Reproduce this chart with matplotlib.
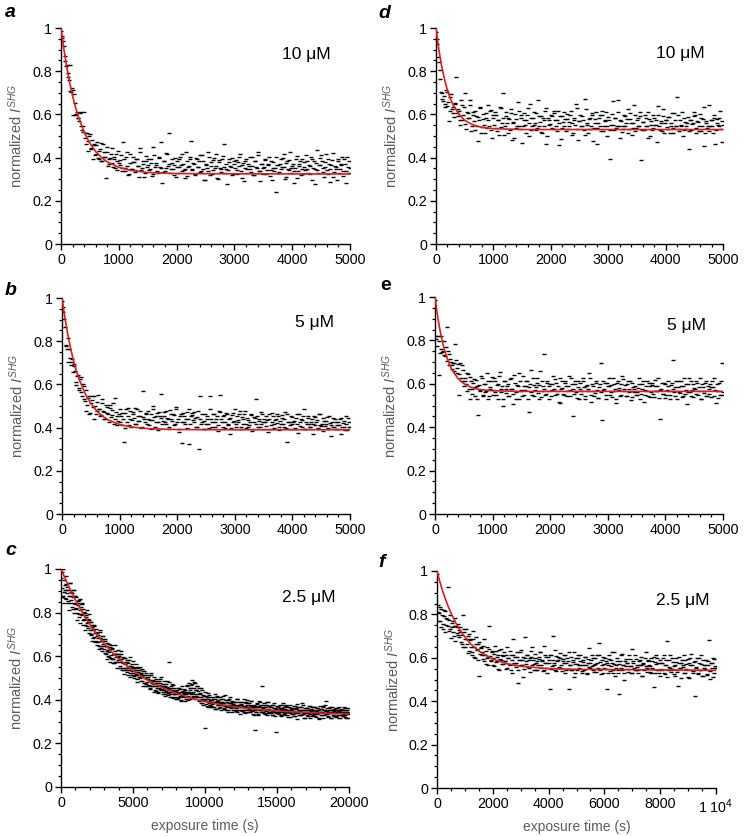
import numpy as np
import matplotlib
matplotlib.use("Agg")
import matplotlib.pyplot as plt
from matplotlib.ticker import MultipleLocator, FixedLocator, FixedFormatter

plt.rcParams['font.family'] = ['Liberation Sans', 'DejaVu Sans']
plt.rcParams['mathtext.fontset'] = 'custom'
plt.rcParams['mathtext.rm'] = 'Liberation Sans'
plt.rcParams['mathtext.it'] = 'Liberation Sans:italic'
plt.rcParams['mathtext.bf'] = 'Liberation Sans:bold'

# ---------------- data ----------------
panel_letters = ['a', 'b', 'c', 'd', 'e', 'f']
concentrations = ['10 μM', '5 μM', '2.5 μM', '10 μM', '5 μM', '2.5 μM']
sample_step = [25, 25, 50, 25, 25, 40]          # seconds between measurements of one pass
x_max = [5000, 5000, 20000, 5000, 5000, 10000]
x_major = [1000, 1000, 5000, 1000, 1000, 2000]
x_minor = [200, 200, 1000, 200, 200, 500]
y_ticks = [0, 0.2, 0.4, 0.6, 0.8, 1.0]
y_ticklabels = ['0', '0.2', '0.4', '0.6', '0.8', '1']

# normalized SHG intensity, in thousandths; "_a" pass at t = k*step, "_b" pass at t = step/2 + k*step
a_a = [985, 952, 915, 848, 828, 771, 830, 705, 712, 693, 598, 612, 585, 605, 545, 520, 610, 465, 512, 430,
       508, 445, 392, 458, 418, 472, 395, 441, 382, 462, 405, 305, 428, 372, 398, 445, 358, 392, 418, 341, 376,
       388, 352, 471, 336, 402, 361, 325, 418, 348, 379, 341, 395, 362, 312, 426, 353, 384, 331, 407, 368,
       344, 392, 316, 448, 358, 376, 329, 405, 351, 282, 386, 337, 421, 362, 515, 348, 374, 319, 398, 355,
       327, 392, 366, 418, 341, 305, 382, 357, 404, 478, 346, 371, 322, 395, 358, 412, 336, 384, 298, 367,
       352, 425, 318, 378, 341, 396, 362, 305, 387, 354, 332, 408, 462, 347, 276, 381, 359, 398, 324, 372,
       388, 341, 362, 415, 306, 376, 352, 394, 328, 362, 345, 402, 318, 383, 357, 428, 336, 291, 372, 354,
       389, 322, 364, 405, 343, 296, 378, 351, 242, 368, 332, 395, 358, 415, 301, 374, 346, 388, 327, 362,
       284, 351, 408, 336, 372, 318, 395, 357, 341, 385, 328, 362, 405, 296, 382, 347, 436, 331, 368, 414,
       352, 309, 378, 341, 392, 287, 365, 421, 332, 358, 296, 384, 346, 372, 315, 392, 339, 405, 328, 352]
a_b = [962, 938, 872, 826, 792, 758, 708, 722, 598, 655, 602, 585, 568, 612, 528, 548, 492, 515, 475, 502,
       438, 482, 462, 412, 458, 398, 432, 468, 385, 425, 402, 448, 362, 395, 418, 375, 402, 352, 385, 432,
       365, 412, 338, 392, 352, 428, 318, 375, 345, 402, 378, 332, 395, 362, 445, 341, 372, 308, 385, 356,
       392, 348, 375, 325, 412, 366, 338, 398, 355, 472, 335, 384, 352, 418, 372, 328, 395, 345, 368, 312,
       382, 355, 405, 338, 372, 348, 425, 315, 362, 392, 342, 375, 318, 398, 356, 382, 332, 412, 348, 295,
       372, 338, 405, 362, 325, 388, 352, 415, 302, 378, 345, 392, 358, 328, 372, 342, 395, 358, 318, 382,
       352, 325, 378, 405, 338, 365, 292, 385, 348, 372, 402, 335, 362, 318, 385, 352, 412, 338, 372, 325,
       358, 392, 342, 372, 315, 385, 352, 338, 402, 365, 328, 372, 345, 398, 358, 312, 382, 342, 425, 352,
       372, 338, 395, 305, 362, 385, 348, 325, 378, 412, 345, 368, 322, 392, 352, 278, 375, 342, 365, 398,
       382, 335, 358, 415, 325, 372, 345, 388, 312, 362, 348, 392, 328, 365, 405, 338, 372, 282, 355, 385]

b_a = [985, 935, 868, 782, 815, 762, 702, 718, 684, 662, 598, 642, 575, 632, 548, 591, 522, 478, 536, 462,
       515, 548, 442, 502, 478, 552, 486, 458, 512, 472, 438, 495, 462, 505, 447, 482, 418, 535, 456, 432, 488,
       452, 412, 335, 468, 425, 491, 438, 402, 472, 446, 418, 485, 432, 456, 398, 571, 441, 462, 415, 478,
       436, 395, 502, 448, 425, 468, 389, 452, 555, 431, 472, 418, 446, 395, 482, 438, 462, 412, 495, 428,
       378, 452, 331, 468, 425, 442, 398, 485, 415, 458, 436, 472, 402, 448, 302, 545, 425, 392, 462, 418,
       441, 398, 548, 426, 465, 405, 438, 382, 475, 552, 428, 452, 396, 468, 415, 442, 372, 458, 425, 488,
       405, 436, 462, 392, 448, 418, 475, 398, 435, 412, 458, 382, 425, 446, 532, 402, 438, 415, 462, 395,
       428, 452, 378, 442, 412, 468, 398, 435, 422, 455, 388, 418, 445, 402, 472, 335, 428, 395, 452, 415,
       432, 398, 462, 375, 425, 442, 405, 488, 392, 418, 445, 402, 428, 372, 452, 412, 435, 395, 465, 408,
       385, 432, 415, 448, 398, 422, 362, 445, 405, 428, 412, 395, 438, 372, 422, 402, 452, 388, 428, 405]
b_b = [958, 905, 778, 762, 705, 722, 688, 658, 695, 612, 638, 585, 625, 565, 602, 532, 575, 505, 548, 468,
       528, 495, 545, 462, 518, 488, 452, 532, 475, 442, 505, 468, 425, 492, 458, 512, 438, 472, 412, 462,
       425, 468, 442, 398, 485, 452, 412, 475, 435, 462, 492, 418, 455, 432, 478, 405, 448, 425, 468, 442,
       412, 462, 435, 488, 402, 452, 428, 472, 445, 415, 455, 425, 478, 438, 402, 465, 432, 458, 418, 485,
       442, 395, 462, 428, 455, 415, 472, 438, 325, 452, 468, 425, 445, 405, 478, 438, 415, 462, 432, 395,
       452, 418, 485, 442, 405, 465, 428, 452, 412, 472, 438, 402, 458, 425, 465, 412, 445, 398, 468, 432,
       415, 452, 428, 475, 402, 438, 462, 418, 445, 405, 428, 465, 392, 448, 418, 452, 432, 405, 472, 425,
       442, 408, 435, 462, 395, 428, 452, 415, 438, 465, 405, 432, 458, 418, 442, 398, 465, 425, 412, 448,
       428, 395, 445, 418, 462, 408, 435, 452, 392, 425, 452, 418, 402, 438, 415, 448, 425, 398, 462, 412,
       418, 445, 408, 432, 395, 455, 412, 428, 402, 442, 395, 428, 412, 445, 405, 432, 388, 418, 445, 402]

c_a = [1000, 912, 985, 878, 948, 902, 865, 931, 889, 918, 852, 905, 878, 935, 842, 892, 815, 871, 902, 838,
       875, 822, 798, 852, 835, 778, 862, 812, 792, 838, 765, 818, 772, 745, 798, 782, 738, 772, 755, 792,
       722, 758, 695, 742, 718, 685, 738, 705, 725, 672, 708, 665, 682, 645, 712, 672, 638, 692, 655, 678,
       632, 668, 612, 648, 625, 602, 655, 618, 635, 592, 605, 638, 585, 612, 568, 625, 598, 575, 608, 582,
       572, 602, 555, 585, 612, 548, 575, 592, 538, 565, 548, 572, 528, 555, 538, 582, 522, 545, 562, 515,
       525, 548, 508, 535, 518, 552, 495, 528, 512, 538, 498, 522, 485, 508, 532, 478, 502, 515, 472, 495,
       482, 505, 468, 492, 455, 512, 478, 462, 488, 472, 465, 445, 488, 452, 475, 438, 468, 495, 448, 462,
       448, 472, 435, 458, 425, 465, 442, 485, 432, 455, 575, 438, 425, 452, 415, 445, 468, 428, 438, 412,
       425, 445, 408, 432, 455, 418, 398, 438, 422, 442, 412, 432, 445, 405, 425, 468, 398, 418, 438, 452,
       455, 425, 472, 412, 438, 482, 405, 445, 418, 465, 442, 412, 395, 428, 385, 452, 402, 375, 418, 398,
       272, 405, 382, 415, 368, 395, 422, 378, 398, 372, 392, 412, 368, 385, 402, 358, 395, 418, 375, 388,
       382, 365, 402, 375, 392, 418, 358, 385, 372, 398, 365, 392, 352, 378, 405, 368, 385, 345, 392, 375,
       372, 355, 388, 362, 402, 345, 378, 365, 392, 352, 375, 348, 365, 392, 355, 372, 338, 385, 362, 398,
       365, 342, 378, 352, 395, 362, 335, 372, 355, 262, 368, 345, 382, 358, 335, 372, 352, 392, 342, 462,
       362, 345, 378, 335, 365, 352, 388, 338, 358, 372, 342, 365, 355, 332, 378, 348, 362, 325, 358, 252,
       355, 338, 372, 345, 362, 328, 358, 375, 342, 352, 365, 338, 352, 378, 332, 355, 345, 368, 322, 352,
       342, 358, 335, 372, 348, 325, 362, 345, 382, 338, 355, 332, 348, 368, 328, 352, 375, 338, 355, 318,
       345, 362, 328, 352, 338, 372, 335, 358, 342, 325, 352, 338, 365, 325, 348, 362, 335, 352, 318, 345,
       342, 358, 332, 345, 372, 328, 355, 338, 395, 335, 348, 325, 352, 338, 365, 318, 345, 355, 332, 348,
       338, 355, 322, 345, 362, 332, 348, 315, 352, 338, 345, 328, 352, 335, 362, 322, 342, 355, 318, 338,
       335]
c_b = [958, 872, 1000, 895, 842, 925, 968, 862, 905, 842, 878, 812, 935, 858, 895, 825, 902, 842, 798, 875,
       815, 872, 768, 842, 795, 858, 752, 825, 788, 845, 742, 805, 768, 722, 788, 752, 812, 728, 768, 705,
       758, 702, 735, 672, 725, 688, 745, 665, 712, 692, 652, 698, 632, 685, 718, 645, 668, 622, 692, 648,
       678, 615, 645, 588, 662, 628, 598, 642, 575, 652, 585, 632, 568, 608, 652, 575, 612, 548, 595, 628,
       612, 548, 585, 622, 535, 598, 568, 518, 592, 545, 535, 582, 515, 568, 545, 598, 505, 555, 532, 578,
       552, 498, 535, 512, 565, 482, 528, 545, 505, 552, 518, 485, 542, 465, 512, 532, 478, 525, 462, 505,
       495, 462, 512, 448, 485, 522, 465, 492, 438, 505, 478, 442, 495, 462, 432, 488, 452, 475, 445, 505,
       462, 428, 485, 445, 418, 472, 438, 458, 422, 482, 448, 415, 462, 435, 472, 408, 452, 425, 442, 405,
       438, 402, 455, 425, 412, 448, 395, 435, 465, 418, 425, 448, 395, 438, 462, 412, 432, 478, 402, 445,
       468, 432, 492, 418, 452, 475, 425, 445, 462, 412, 425, 452, 398, 432, 412, 445, 385, 422, 405, 438,
       395, 418, 372, 405, 432, 385, 412, 365, 398, 382, 402, 368, 392, 425, 358, 388, 412, 375, 398, 362,
       385, 412, 355, 392, 375, 405, 362, 422, 378, 352, 372, 398, 345, 385, 412, 362, 378, 395, 352, 382,
       365, 392, 348, 378, 402, 355, 372, 388, 335, 375, 382, 355, 372, 402, 342, 365, 392, 352, 378, 345,
       358, 385, 342, 372, 395, 348, 365, 332, 378, 355, 372, 345, 385, 332, 365, 395, 352, 375, 342, 368,
       352, 385, 338, 365, 348, 378, 332, 392, 355, 342, 368, 338, 375, 352, 328, 385, 345, 362, 338, 372,
       345, 368, 335, 378, 352, 325, 362, 342, 385, 335, 358, 332, 372, 345, 365, 322, 352, 378, 338, 362,
       335, 362, 348, 325, 372, 338, 358, 312, 365, 345, 352, 328, 365, 342, 385, 335, 352, 318, 362, 345,
       338, 362, 325, 355, 342, 372, 318, 348, 365, 332, 355, 335, 368, 322, 345, 362, 338, 352, 312, 372,
       332, 358, 342, 365, 318, 352, 375, 335, 348, 362, 345, 322, 362, 338, 352, 315, 368, 342, 325, 358,
       338, 362, 325, 352, 342, 368, 318, 345, 358, 332, 352, 325, 345, 368, 332, 355, 315, 342, 362, 338]

d_a = [980, 925, 842, 805, 698, 662, 648, 715, 638, 568, 682, 625, 605, 648, 772, 592, 618, 552, 642, 575,
       698, 532, 605, 585, 668, 548, 612, 528, 592, 478, 575, 628, 542, 602, 515, 585, 645, 548, 622, 492, 585,
       612, 538, 575, 505, 628, 558, 698, 545, 592, 515, 578, 625, 482, 562, 602, 535, 658, 548, 585, 468,
       605, 552, 572, 628, 498, 582, 545, 612, 562, 528, 668, 545, 592, 512, 575, 618, 462, 585, 552, 598,
       538, 605, 572, 525, 615, 562, 488, 592, 548, 578, 602, 532, 565, 618, 505, 575, 552, 628, 482, 568,
       545, 592, 528, 672, 558, 512, 585, 548, 605, 535, 578, 465, 562, 598, 525, 615, 545, 575, 502, 588,
       395, 552, 662, 528, 585, 545, 612, 492, 568, 532, 598, 548, 578, 515, 605, 562, 535, 642, 525, 572,
       548, 592, 388, 565, 528, 582, 545, 612, 502, 568, 535, 585, 552, 472, 598, 528, 562, 625, 512, 575,
       542, 588, 515, 562, 535, 605, 548, 682, 525, 572, 545, 498, 585, 532, 562, 442, 575, 528, 558, 592,
       512, 568, 545, 602, 525, 578, 452, 562, 535, 642, 548, 575, 512, 585, 528, 562, 545, 618, 472, 552]
d_b = [948, 868, 762, 705, 672, 685, 635, 702, 658, 618, 695, 632, 588, 652, 608, 625, 572, 668, 598, 632,
       555, 612, 582, 642, 525, 598, 568, 615, 545, 588, 632, 512, 578, 552, 605, 535, 572, 618, 528, 595,
       552, 598, 525, 575, 632, 542, 585, 505, 612, 558, 582, 528, 605, 565, 492, 578, 545, 618, 532, 595,
       548, 575, 512, 598, 562, 648, 528, 585, 552, 605, 538, 592, 565, 518, 582, 545, 628, 502, 572, 555,
       592, 532, 615, 548, 575, 458, 592, 538, 565, 612, 525, 578, 545, 598, 562, 512, 585, 648, 532, 568,
       598, 545, 572, 505, 625, 552, 578, 532, 595, 478, 562, 612, 538, 585, 548, 595, 522, 568, 612, 545,
       575, 528, 602, 552, 585, 538, 665, 545, 572, 518, 548, 592, 562, 625, 532, 578, 505, 562, 598, 535,
       582, 545, 612, 528, 565, 598, 545, 492, 578, 552, 528, 598, 552, 575, 638, 545, 568, 522, 592, 562,
       575, 532, 588, 548, 605, 515, 572, 548, 598, 532, 552, 612, 528, 565, 545, 588, 525, 572, 555, 612,
       598, 535, 565, 522, 585, 548, 632, 512, 568, 545, 525, 572, 548, 595, 462, 578, 552, 585, 532, 568]

e_a = [985, 805, 818, 642, 762, 748, 795, 728, 862, 752, 688, 702, 668, 695, 785, 652, 692, 548, 625, 688,
       592, 612, 565, 645, 528, 612, 575, 622, 545, 592, 455, 568, 635, 542, 598, 562, 652, 528, 585, 612, 548,
       628, 562, 595, 532, 655, 575, 498, 612, 558, 588, 545, 622, 575, 508, 642, 562, 595, 528, 612, 572,
       635, 548, 588, 615, 472, 598, 562, 628, 545, 585, 605, 532, 658, 568, 592, 738, 555, 612, 528, 598,
       572, 635, 548, 602, 565, 518, 625, 582, 552, 612, 588, 545, 638, 572, 598, 452, 615, 562, 585, 532,
       605, 568, 628, 542, 592, 575, 652, 518, 598, 565, 558, 612, 535, 585, 698, 432, 572, 605, 548, 592,
       625, 562, 538, 598, 575, 512, 615, 582, 548, 635, 568, 595, 542, 612, 578, 525, 605, 562, 592, 548,
       582, 628, 555, 598, 518, 572, 612, 545, 588, 562, 605, 538, 592, 568, 625, 438, 578, 552, 602, 535,
       572, 615, 548, 595, 708, 562, 585, 528, 612, 558, 592, 545, 625, 572, 505, 598, 562, 615, 538, 582,
       555, 602, 568, 628, 532, 585, 558, 612, 545, 575, 598, 538, 585, 625, 512, 568, 602, 548, 698, 562]
e_b = [822, 775, 798, 742, 818, 752, 735, 768, 705, 738, 712, 685, 695, 658, 708, 672, 645, 698, 612, 665,
       625, 598, 648, 575, 632, 552, 605, 585, 618, 532, 595, 572, 625, 548, 598, 565, 612, 545, 578, 632,
       572, 615, 548, 598, 635, 562, 592, 528, 612, 575, 598, 545, 625, 578, 552, 605, 532, 588, 648, 565,
       545, 592, 572, 612, 528, 585, 662, 548, 595, 572, 625, 558, 595, 538, 615, 575, 548, 602, 565, 588,
       542, 598, 578, 622, 555, 592, 512, 575, 612, 548, 605, 568, 592, 545, 628, 575, 552, 598, 535, 615,
       578, 552, 612, 585, 528, 595, 568, 625, 548, 592, 545, 605, 572, 535, 598, 562, 615, 578, 528, 605,
       588, 548, 595, 625, 565, 532, 602, 572, 545, 598, 622, 575, 545, 598, 562, 612, 538, 585, 575, 548,
       562, 598, 532, 575, 615, 548, 592, 568, 605, 538, 595, 552, 618, 565, 588, 535, 572, 605, 552, 598,
       548, 592, 565, 528, 605, 575, 545, 612, 585, 562, 615, 538, 588, 552, 598, 562, 625, 545, 572, 598,
       575, 612, 548, 585, 532, 598, 568, 605, 545, 588, 552, 585, 612, 545, 572, 598, 535, 568, 615, 548]

f_a = [985, 842, 805, 768, 825, 732, 792, 815, 752, 778, 928, 725, 798, 742, 768, 702, 785, 745, 712, 758,
       695, 742, 665, 798, 718, 652, 735, 688, 622, 708, 682, 615, 722, 648, 598, 695, 638, 665, 518, 652,
       628, 595, 685, 612, 572, 648, 602, 748, 588, 632, 565, 618, 655, 582, 602, 548, 638, 592, 612, 572,
       625, 585, 548, 652, 598, 565, 615, 532, 688, 578, 602, 558, 625, 482, 592, 638, 568, 605, 548, 695,
       585, 615, 552, 598, 632, 565, 588, 542, 618, 575, 545, 602, 628, 568, 592, 538, 655, 578, 605, 552,
       588, 455, 615, 562, 702, 575, 545, 608, 592, 558, 622, 568, 538, 595, 578, 612, 545, 585, 455, 568,
       602, 545, 582, 625, 528, 572, 598, 552, 615, 565, 538, 592, 568, 605, 525, 578, 645, 552, 588, 562,
       598, 535, 572, 615, 548, 668, 582, 525, 565, 602, 552, 585, 458, 568, 612, 538, 592, 575, 528, 625,
       565, 598, 542, 432, 585, 552, 618, 568, 532, 595, 575, 548, 612, 562, 528, 642, 578, 545, 595, 558,
       532, 585, 565, 605, 518, 572, 548, 628, 555, 592, 568, 535, 598, 552, 465, 582, 612, 545, 575, 528,
       592, 548, 575, 615, 525, 565, 678, 542, 588, 555, 535, 598, 562, 518, 582, 545, 468, 605, 552, 575,
       558, 612, 528, 572, 545, 595, 505, 565, 618, 538, 582, 422, 555, 598, 532, 575, 545, 612, 518, 568,
       548, 592, 525, 565, 682, 538, 575, 512, 595, 555, 552]
f_b = [812, 768, 835, 742, 795, 758, 822, 718, 785, 748, 772, 735, 692, 762, 718, 748, 678, 742, 705, 728,
       718, 672, 705, 648, 735, 685, 662, 702, 632, 688, 652, 628, 685, 605, 662, 642, 592, 675, 618, 645,
       612, 655, 585, 632, 598, 568, 642, 608, 585, 625, 598, 562, 632, 585, 612, 545, 595, 642, 572, 608,
       585, 615, 552, 598, 572, 632, 545, 592, 612, 568, 575, 605, 542, 592, 625, 565, 588, 512, 598, 572,
       612, 558, 592, 535, 605, 648, 572, 598, 545, 585, 568, 595, 625, 552, 585, 542, 612, 578, 532, 602,
       575, 612, 548, 592, 565, 635, 538, 585, 602, 555, 598, 552, 585, 612, 532, 575, 598, 548, 625, 565,
       545, 588, 512, 572, 598, 545, 612, 568, 585, 528, 582, 545, 602, 565, 528, 595, 558, 575, 612, 542,
       565, 598, 535, 578, 552, 612, 545, 588, 528, 572, 598, 548, 575, 532, 595, 562, 625, 545, 572, 515,
       552, 585, 528, 572, 612, 545, 568, 498, 585, 562, 578, 535, 595, 562, 528, 585, 552, 612, 545, 568,
       545, 592, 565, 518, 578, 542, 598, 562, 535, 585, 562, 528, 585, 548, 605, 532, 572, 598, 545, 518,
       575, 545, 598, 532, 565, 588, 512, 558, 612, 542, 548, 582, 525, 568, 598, 535, 575, 552, 505, 588,
       565, 532, 592, 548, 512, 578, 598, 542, 565, 528, 542, 585, 558, 525, 598, 545, 572, 518, 588, 552,
       568, 522, 585, 545, 502, 575, 552, 598, 528, 562]

# fitted exponential decay curves
a_fit_t = [0, 50, 100, 150, 200, 250, 300, 400, 500, 600, 700, 800, 1000, 1200, 1500, 2000, 3000, 5000]
a_fit_y = [1.0, 0.902, 0.819, 0.747, 0.686, 0.634, 0.589, 0.518, 0.466, 0.428, 0.401, 0.380, 0.355, 0.341, 0.331, 0.326, 0.325, 0.324]
b_fit_t = [0, 50, 100, 150, 200, 250, 300, 400, 500, 600, 700, 800, 1000, 1200, 1500, 2000, 3000, 5000]
b_fit_y = [1.0, 0.909, 0.832, 0.766, 0.710, 0.662, 0.622, 0.558, 0.512, 0.478, 0.454, 0.436, 0.414, 0.403, 0.395, 0.391, 0.390, 0.390]
c_fit_t = [0, 500, 1000, 1500, 2000, 2500, 3000, 3500, 4000, 4500, 5000, 5500, 6000, 6500, 7000, 7500, 8000,
           8500, 9000, 9500, 10000, 11000, 12000, 13000, 14000, 15000, 16000, 17000, 18000, 19000, 20000]
c_fit_y = [1.0, 0.925, 0.858, 0.799, 0.746, 0.699, 0.658, 0.621, 0.589, 0.560, 0.534, 0.511, 0.491, 0.473, 0.457,
           0.443, 0.430, 0.419, 0.408, 0.400, 0.392, 0.379, 0.368, 0.360, 0.354, 0.349, 0.345, 0.342, 0.339, 0.337, 0.336]
d_fit_t = [0, 25, 50, 75, 100, 150, 200, 250, 300, 400, 500, 600, 700, 800, 1000, 1500, 5000]
d_fit_y = [1.0, 0.947, 0.900, 0.859, 0.822, 0.760, 0.711, 0.673, 0.643, 0.600, 0.573, 0.557, 0.547, 0.540, 0.534, 0.530, 0.530]
e_fit_t = [0, 25, 50, 75, 100, 150, 200, 250, 300, 400, 500, 600, 700, 800, 1000, 1500, 5000]
e_fit_y = [1.0, 0.949, 0.904, 0.864, 0.829, 0.770, 0.725, 0.690, 0.662, 0.624, 0.601, 0.587, 0.578, 0.573, 0.568, 0.565, 0.565]
f_fit_t = [0, 100, 200, 300, 400, 500, 700, 900, 1200, 1500, 2000, 2500, 3000, 4000, 5000, 7000, 10000]
f_fit_y = [1.0, 0.952, 0.909, 0.871, 0.837, 0.806, 0.754, 0.712, 0.665, 0.631, 0.594, 0.573, 0.561, 0.550, 0.547, 0.545, 0.542]

series = [(a_a, a_b), (b_a, b_b), (c_a, c_b), (d_a, d_b), (e_a, e_b), (f_a, f_b)]
fits = [(a_fit_t, a_fit_y), (b_fit_t, b_fit_y), (c_fit_t, c_fit_y),
        (d_fit_t, d_fit_y), (e_fit_t, e_fit_y), (f_fit_t, f_fit_y)]

# ---------------- layout ----------------
W, H = 746, 836
fig = plt.figure(figsize=(W / 100, H / 100), dpi=100)

def rect(x0, x1, ytop, ybot):
    return [x0 / W, 1 - ybot / H, (x1 - x0) / W, (ybot - ytop) / H]

rects = [rect(61, 350, 28, 244), rect(62, 350, 298, 514), rect(61, 349, 569, 787),
         rect(436, 723, 28, 244), rect(435, 723, 297, 514), rect(437, 716, 571, 788)]
conc_pos = [(0.765, 0.875), (0.81, 0.885), (0.767, 0.87),
            (0.767, 0.88), (0.806, 0.87), (0.785, 0.866)]
letter_pos = [(5, 17), (5, 295), (5, 555), (378, 18), (380, 290), (378, 567)]

label_gray = '#5c5c5c'
for i in range(6):
    ax = fig.add_axes(rects[i])
    step = sample_step[i]
    pass_a, pass_b = series[i]
    ya = np.array(pass_a) / 1000.0
    yb = np.array(pass_b) / 1000.0
    xa = np.arange(len(ya)) * step
    xb = step / 2 + np.arange(len(yb)) * step
    for x, y in ((xa, ya), (xb, yb)):
        ax.plot(x, y, linestyle='none', marker='_', markersize=2.3, markeredgewidth=1.0,
                color='black', zorder=2)
    ft, fy = fits[i]
    ax.plot(ft, fy, color='#d81e1e', linewidth=1.2, zorder=3)

    ax.set_xlim(0, x_max[i])
    ax.set_ylim(0, 1)
    for s in ['top', 'right']:
        ax.spines[s].set_visible(False)
    for s in ['left', 'bottom']:
        ax.spines[s].set_linewidth(1.0)
    ax.yaxis.set_major_locator(FixedLocator(y_ticks))
    ax.yaxis.set_major_formatter(FixedFormatter(y_ticklabels))
    ax.yaxis.set_minor_locator(MultipleLocator(0.05))
    ax.xaxis.set_major_locator(MultipleLocator(x_major[i]))
    ax.xaxis.set_minor_locator(MultipleLocator(x_minor[i]))
    if i == 5:
        ax.set_xticks([0, 2000, 4000, 6000, 8000, 10000])
        ax.set_xticklabels(['0', '2000', '4000', '6000', '8000', r'1 10$^{4}$'])
    ax.tick_params(which='major', direction='out', length=4.5, width=1.0, labelsize=10.3, pad=2)
    ax.tick_params(which='minor', direction='out', length=2.5, width=0.9)

    ax.set_ylabel(r'normalized $I^{SHG}$', color=label_gray, fontsize=10.5)
    ax.yaxis.set_label_coords(-0.125, 0.5)
    if i in (2, 5):
        ax.set_xlabel('exposure time (s)', color=label_gray, fontsize=10)
        ax.xaxis.set_label_coords(0.5, -0.148)

    ax.text(conc_pos[i][0], conc_pos[i][1], concentrations[i], transform=ax.transAxes,
            fontsize=12.5, ha='left', va='center', color='black')
    lx, ly = letter_pos[i]
    fig.text(lx / W, 1 - ly / H, panel_letters[i], fontsize=14, fontweight='bold',
             fontstyle='normal' if panel_letters[i] == 'e' else 'italic',
             ha='left', va='baseline')

fig.savefig('out.png', dpi=100)
